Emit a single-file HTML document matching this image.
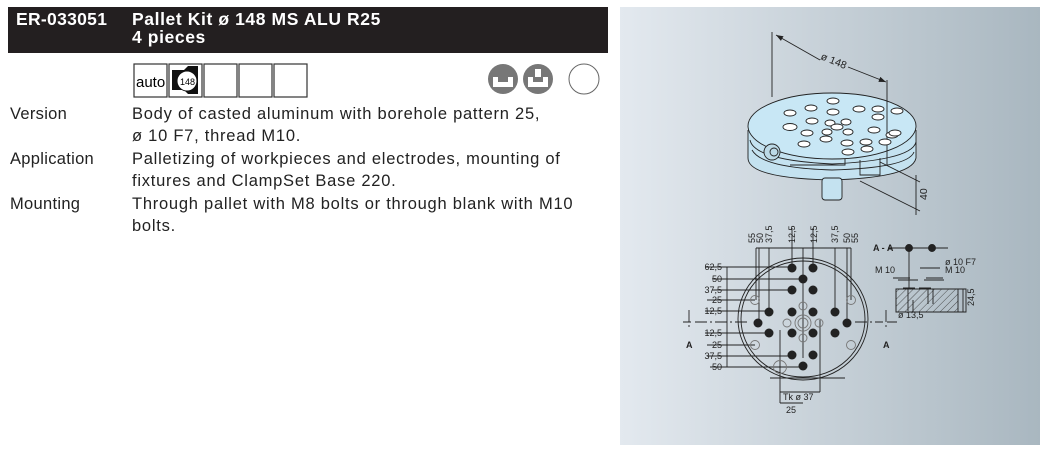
<!DOCTYPE html>
<html><head><meta charset="utf-8"><style>
body{margin:0;width:1046px;height:460px;background:#fff;font-family:"Liberation Sans",sans-serif;overflow:hidden;position:relative}
.hdr{position:absolute;left:8px;top:7px;width:600px;height:46px;background:#231f20;color:#fff;font-weight:bold;font-size:17.5px;line-height:18px}
.t{position:absolute;font-size:16.5px;color:#222;line-height:22.4px;letter-spacing:0.75px}
</style></head><body>
<div class="hdr"><div style="position:absolute;left:8px;top:3px;letter-spacing:0.3px">ER-033051</div><div style="position:absolute;left:124px;top:3px;letter-spacing:0.6px">Pallet Kit ø 148 MS ALU R25<br>4 pieces</div></div>
<svg style="position:absolute;left:0;top:0" width="620" height="100">
<g fill="#fff" stroke="#333" stroke-width="1.2">
<rect x="134" y="64" width="33" height="33"/><rect x="169" y="64" width="33" height="33"/><rect x="204" y="64" width="33" height="33"/><rect x="239" y="64" width="33" height="33"/><rect x="274" y="64" width="33" height="33"/></g>
<text x="136" y="87" font-size="15" font-family="Liberation Sans" fill="#000">auto</text>
<path d="M172 70h12l4-4h10v28h-10l-4-4h-12z" fill="#111"/>
<circle cx="187" cy="81" r="10" fill="#fff" stroke="#111"/><text x="180" y="85" font-size="9" font-family="Liberation Sans">148</text>
<circle cx="503" cy="79" r="15" fill="#777"/><path d="M493 77h5v5h10v-5h5v10h-20z" fill="#fff"/>
<circle cx="538" cy="79" r="15" fill="#777"/><path d="M528 77h5v5h10v-5h5v10h-20z" fill="#fff"/><rect x="535" y="69" width="6" height="8" fill="#fff"/>
<circle cx="584" cy="79" r="15" fill="#fff" stroke="#666"/>
</svg>
<div class="t" style="left:10px;top:103px;letter-spacing:0.3px">Version<br><br>Application<br><br>Mounting</div>
<div class="t" style="left:132px;top:103px">Body of casted aluminum with borehole pattern 25,<br>ø 10 F7, thread M10.<br>Palletizing of workpieces and electrodes, mounting of<br>fixtures and ClampSet Base 220.<br>Through pallet with M8 bolts or through blank with M10<br>bolts.</div>
<svg style="position:absolute;left:0;top:0" width="1046" height="460" font-family="Liberation Sans" font-size="9">
<defs><linearGradient id="g" x1="0" x2="1"><stop offset="0" stop-color="#e3e9ef"/><stop offset="1" stop-color="#a9b7c0"/></linearGradient>
<pattern id="h" width="5" height="5" patternUnits="userSpaceOnUse" patternTransform="rotate(45)"><line x1="0" y1="0" x2="0" y2="5" stroke="#333" stroke-width="0.8"/></pattern>
<marker id="ar" markerWidth="8" markerHeight="6" refX="8" refY="3" orient="auto"><path d="M0 0L8 3L0 6z" fill="#222"/></marker></defs>
<rect x="620" y="7" width="420" height="438" fill="url(#g)"/>
<g stroke="#222" stroke-width="0.9" fill="none">
<!-- 3D pallet -->
<path d="M748 130v28q0 20 82 22q82-2 86-22v-28" fill="#c4e2f0"/>
<rect x="822" y="178" width="20" height="22" rx="3" fill="#c4e2f0"/>
<path d="M750 140q4 20 82 24q80-4 84-22" />
<path d="M752 150q10 18 80 20q76-2 82-18M790 165h55v-10M860 160v15h20v-17"/>
<ellipse cx="832" cy="126" rx="84" ry="33" fill="#c8e7f5"/>
<circle cx="772" cy="152" r="8" fill="#bcd9e6"/><circle cx="774" cy="152" r="4"/>
<path d="M772 32v65M887 80v85M880 162l40 20M860 181l60 30M916 175v40"/>
<path d="M820 60L776 35" marker-end="url(#ar)"/><path d="M848 67L886 82" marker-end="url(#ar)"/>
<g fill="#fff">
<ellipse cx="833" cy="101" rx="6" ry="3"/><ellipse cx="811" cy="108" rx="6" ry="3"/><ellipse cx="790" cy="113" rx="6" ry="3"/><ellipse cx="833" cy="112" rx="6" ry="3"/><ellipse cx="859" cy="109" rx="6" ry="3"/><ellipse cx="878" cy="109" rx="6" ry="3"/><ellipse cx="897" cy="111" rx="6" ry="3"/><ellipse cx="790" cy="127" rx="7" ry="3.5"/><ellipse cx="812" cy="121" rx="6" ry="3"/><ellipse cx="878" cy="117" rx="6" ry="3"/><ellipse cx="874" cy="130" rx="6" ry="3"/><ellipse cx="830" cy="123" rx="5" ry="3"/><ellipse cx="846" cy="122" rx="5" ry="3"/><ellipse cx="827" cy="132" rx="5" ry="3"/><ellipse cx="848" cy="132" rx="5" ry="3"/><ellipse cx="837" cy="127" rx="6" ry="3"/><ellipse cx="807" cy="133" rx="6" ry="3"/><ellipse cx="804" cy="144" rx="6" ry="3"/><ellipse cx="826" cy="139" rx="6" ry="3"/><ellipse cx="847" cy="143" rx="6" ry="3"/><ellipse cx="866" cy="142" rx="6" ry="3"/><ellipse cx="885" cy="142" rx="6" ry="3"/><ellipse cx="892" cy="135" rx="6" ry="3"/><ellipse cx="848" cy="152" rx="6" ry="3"/><ellipse cx="867" cy="149" rx="6" ry="3"/><ellipse cx="895" cy="133" rx="6" ry="3"/>
</g>
<!-- plan view -->
<ellipse cx="803" cy="319" rx="65" ry="61"/><ellipse cx="803" cy="319" rx="62" ry="58"/>
<path d="M683 322h8M695 322h55M855 322h28M887 322h10M689 310v20M886 310v20" stroke-dasharray="12 3 2 3"/>
<path d="M756 248h95M756 248v52M759 248v75M769 248v64M792 228v40M803 248v110M813 228v40M835 248v64M847 248v75M851 248v52"/>
<path d="M727 267v100M705 267h87M712 279h91M712 290h80M707 300h48M705 311h64M705 333h64M707 345h48M707 356h85M710 367h93"/>
<path d="M780 330v73M820 320v72M780 392h40M780 403h23M770 378h75"/>
<g fill="#222" stroke="none">
<circle cx="792" cy="268" r="4.5"/><circle cx="813" cy="268" r="4.5"/><circle cx="803" cy="279" r="4.5"/><circle cx="792" cy="290" r="4.5"/><circle cx="813" cy="290" r="4.5"/><circle cx="769" cy="312" r="4.5"/><circle cx="792" cy="312" r="4.5"/><circle cx="813" cy="312" r="4.5"/><circle cx="835" cy="312" r="4.5"/><circle cx="758" cy="323" r="4.5"/><circle cx="847" cy="323" r="4.5"/><circle cx="769" cy="333" r="4.5"/><circle cx="792" cy="333" r="4.5"/><circle cx="813" cy="333" r="4.5"/><circle cx="835" cy="333" r="4.5"/><circle cx="792" cy="355" r="4.5"/><circle cx="813" cy="355" r="4.5"/><circle cx="803" cy="366" r="4.5"/></g>
<g stroke="#777"><circle cx="755" cy="300" r="4.5"/><circle cx="851" cy="300" r="4.5"/><circle cx="755" cy="345" r="4.5"/><circle cx="851" cy="345" r="4.5"/><circle cx="780" cy="367" r="6.5"/><circle cx="803" cy="306" r="4"/><circle cx="803" cy="338" r="4"/><circle cx="787" cy="323" r="4"/><circle cx="819" cy="323" r="4"/><circle cx="803" cy="323" r="8"/><circle cx="803" cy="323" r="5"/></g>
<!-- section -->
<path d="M888 248h60M909 248v40M903 288h12M919 288h12M920 268h20M898 280h20M924 280h20M893 278h17M926 278h17"/>
<rect x="896" y="289" width="62" height="23" fill="url(#h)"/>
<path d="M896 289h70v23h-70zM913 312v-12M908 289v22M928 289v15M933 289v15M950 289h14M963 289v23"/>
<circle cx="909" cy="248" r="3.5" fill="#222"/><circle cx="932" cy="248" r="3.5" fill="#222"/>
</g>
<g fill="#222">
<text x="820" y="59" transform="rotate(22 820 59)" font-size="10.5">ø 148</text>
<text x="927" y="200" transform="rotate(-90 927 200)" font-size="10.5">40</text>
<g text-anchor="end">
<text x="722" y="270">62,5</text><text x="722" y="282">50</text><text x="722" y="293">37,5</text><text x="722" y="303">25</text><text x="722" y="314">12,5</text><text x="722" y="336">12,5</text><text x="722" y="348">25</text><text x="722" y="359">37,5</text><text x="722" y="370">50</text>
</g>
<g>
<text transform="translate(755 243) rotate(-90)">55</text><text transform="translate(763 243) rotate(-90)">50</text><text transform="translate(772 243) rotate(-90)">37,5</text><text transform="translate(795 243) rotate(-90)">12,5</text><text transform="translate(817 243) rotate(-90)">12,5</text><text transform="translate(838 243) rotate(-90)">37,5</text><text transform="translate(850 243) rotate(-90)">50</text><text transform="translate(858 243) rotate(-90)">55</text>
</g>
<text x="686" y="348" font-weight="bold">A</text><text x="883" y="348" font-weight="bold">A</text>
<text x="783" y="400">Tk ø 37</text><text x="786" y="413">25</text>
<text x="873" y="251" font-weight="bold">A - A</text>
<text x="945" y="265">ø 10 F7</text><text x="875" y="273">M 10</text><text x="945" y="273">M 10</text>
<text x="898" y="318">ø 13,5</text><text transform="translate(974 306) rotate(-90)">24,5</text>
</g>
</svg>
</body></html>
